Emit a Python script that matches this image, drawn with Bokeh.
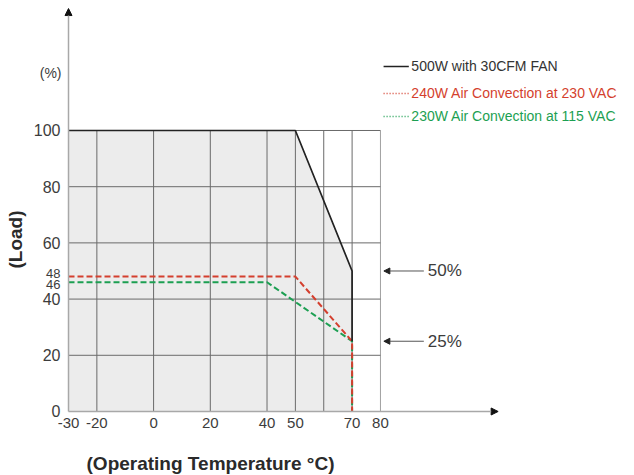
from bokeh.plotting import figure
from bokeh.models import Range1d, Arrow, NormalHead
from bokeh.core.properties import value
from bokeh.embed import file_html
from bokeh.resources import INLINE

# ---- data ----
fan_temp = [-30, 50, 70, 70]
fan_load = [100, 100, 50, 25]
ac230_temp = [-30, 50, 70, 70]
ac230_load = [48, 48, 25, 0]
ac115_temp = [-30, 40, 70, 70]
ac115_load = [46, 46, 25, 0]

x_ticks = [-30, -20, 0, 20, 40, 50, 70, 80]
x_grid = [-20, 0, 20, 40, 50, 60, 70]
y_ticks = [0, 20, 40, 60, 80, 100]
y_grid = [20, 40, 60, 80, 100]
y_extra_ticks = [48, 46]
series_names = ["500W with 30CFM FAN", "240W Air Convection at 230 VAC", "230W Air Convection at 115 VAC"]
marker_levels = [50, 25]
marker_texts = ["50%", "25%"]

FONT = "Liberation Sans"
BLACK = "#222222"
RED = "#d43f2e"
GREEN = "#1c9f52"
GRID = "#6a6a6a"
TXT = "#3c3c3c"

# scale: 2.836 px per degree, 2.81 px per percent; origin (-30, 0) at pixel (68, 411)
p = figure(width=634, height=475, output_backend="svg", toolbar_location=None,
           x_range=Range1d(-53.98, 169.58), y_range=Range1d(-22.78, 146.26),
           min_border=0)
p.outline_line_color = None
p.xgrid.visible = False
p.ygrid.visible = False
p.axis.visible = False

# shaded area under the fan curve
p.patch([fan_temp[0]] + fan_temp[:3] + [fan_temp[2]],
        [0] + fan_load[:3] + [0], fill_color="#ececec", line_color=None)

# grid box
p.segment(x0=x_grid, y0=[0] * len(x_grid), x1=x_grid, y1=[100] * len(x_grid),
          line_color=GRID, line_width=1)
p.segment(x0=[80], y0=[0], x1=[80], y1=[100], line_color="#a0a0a0", line_width=1)
p.segment(x0=[-30] * len(y_grid), y0=y_grid, x1=[80] * len(y_grid), y1=y_grid,
          line_color=GRID, line_width=1)

# axes with arrows
p.add_layout(Arrow(end=NormalHead(size=7, fill_color="#111111", line_color="#111111"),
                   x_start=-30, y_start=0, x_end=-30, y_end=143.4,
                   line_color="#a8a8a8", line_width=1.5))
p.add_layout(Arrow(end=NormalHead(size=7, fill_color="#111111", line_color="#111111"),
                   x_start=-30, y_start=0, x_end=121.5, y_end=0,
                   line_color="#a8a8a8", line_width=1.5))

# tick labels
p.text(x=x_ticks, y=[0] * len(x_ticks), text=[str(t) for t in x_ticks], y_offset=7,
       text_align="center", text_baseline="top", text_color=TXT,
       text_font=value(FONT), text_font_size="15px")
p.text(x=[-30] * len(y_ticks), y=y_ticks, text=[str(t) for t in y_ticks], x_offset=-8,
       text_align="right", text_baseline="middle", text_color=TXT,
       text_font=value(FONT), text_font_size="16px")
for t, off in zip(y_extra_ticks, [-3, 2]):
    p.text(x=[-30], y=[t], text=[str(t)], x_offset=-8, y_offset=off,
           text_align="right", text_baseline="middle", text_color=TXT,
           text_font=value(FONT), text_font_size="13px")

# curves
p.line(ac115_temp, ac115_load, line_color=GREEN, line_width=2, line_dash="6 3")
p.line(ac230_temp, ac230_load, line_color=RED, line_width=2, line_dash="6 3")
p.line(fan_temp, fan_load, line_color=BLACK, line_width=1.7)

# legend
leg_y = [122.8, 113.2, 105.0]
leg_colors = [BLACK, RED, GREEN]
leg_dash = ["solid", "1 2", "1 2"]
for yy, c, d in zip(leg_y, leg_colors, leg_dash):
    p.line([81.1, 90.0], [yy, yy], line_color=c, line_width=1.5, line_dash=d)
p.text(x=[90.9] * 3, y=leg_y, text=series_names, text_color=["#333333", RED, GREEN],
       text_font=value(FONT), text_font_size="14px", text_baseline="middle")

# 50% / 25% markers
for lvl in marker_levels:
    p.add_layout(Arrow(end=NormalHead(size=6, fill_color="#222222", line_color="#222222"),
                       x_start=95.3, y_start=lvl, x_end=81.2, y_end=lvl,
                       line_color="#555555", line_width=1))
p.text(x=[96.7] * 2, y=marker_levels, text=marker_texts, text_color=TXT,
       text_font=value(FONT), text_font_size="17px", text_baseline="middle")

# unit and axis titles
p.text(x=[-30], y=[(411 - 73) / 2.81], text=["(%)"], x_offset=-7,
       text_align="right", text_baseline="middle", text_color=TXT,
       text_font=value(FONT), text_font_size="14px")
p.text(x=[-30 - 53 / 2.836], y=[(411 - 239) / 2.81], text=["(Load)"], angle=90,
       angle_units="deg", text_align="center", text_baseline="middle",
       text_color="#2a2a2a", text_font=value(FONT), text_font_size="19px",
       text_font_style="bold")
p.text(x=[-30 + 142 / 2.836], y=[-52 / 2.81], text=["(Operating Temperature °C)"],
       text_align="center", text_baseline="middle", text_color="#2a2a2a",
       text_font=value(FONT), text_font_size="19px", text_font_style="bold")

open("out.html", "w").write(file_html(p, INLINE))
